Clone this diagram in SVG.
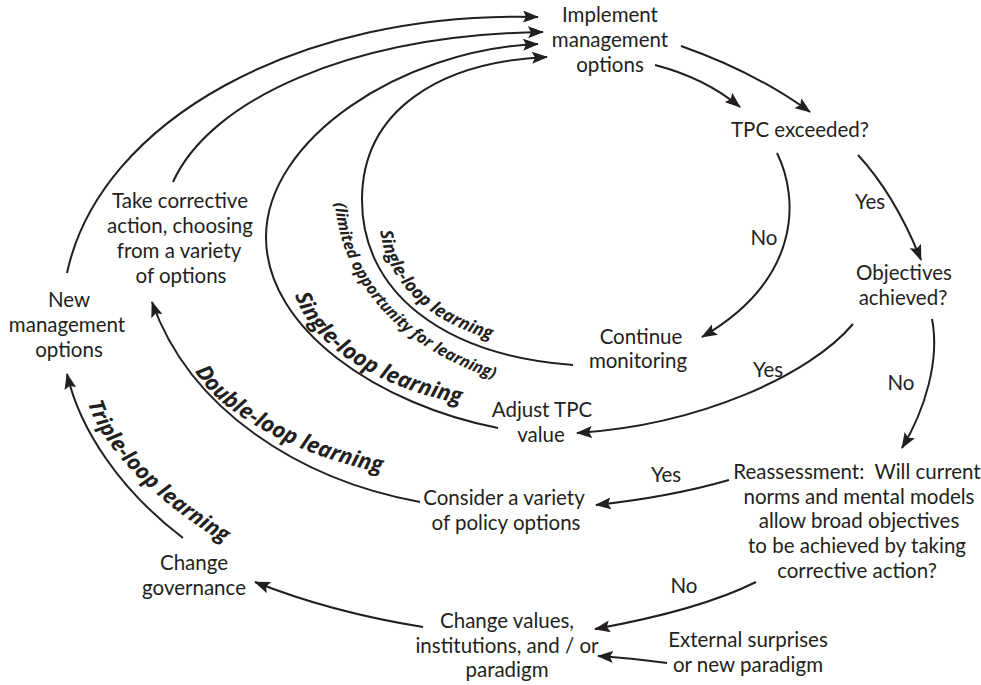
<svg xmlns="http://www.w3.org/2000/svg" xmlns:xlink="http://www.w3.org/1999/xlink" width="981" height="685" viewBox="0 0 981 685">
<style>
.t{font-family:Lato,"Open Sans","DejaVu Sans",sans-serif;font-size:20.5px;fill:#231f20;text-anchor:middle}
.c{fill:none;stroke:#231f20;stroke-width:2;marker-end:url(#ah)}
.lb{font-family:"Open Sans","Noto Sans","DejaVu Sans",sans-serif;font-weight:bold;font-style:italic;fill:#231f20}
</style>
<defs>
<marker id="ah" markerUnits="userSpaceOnUse" markerWidth="16" markerHeight="12" viewBox="0 0 16 12" refX="15" refY="6" orient="auto">
<path d="M0,0 L16,6 L0,12 L3,6 z" fill="#231f20"/>
</marker>
<path id="tpS1" d="M380,231 C388,285 430,325 504,343"/>
<path id="tpLim" d="M335,203 C342,290 410,355 505,382"/>
<path id="tpS2" d="M295,295 C310,345 380,390 468,405"/>
<path id="tpD" d="M195,371 C215,410 300,460 392,474"/>
<path id="tpT" d="M88,403 C100,445 155,505 240,552"/>
</defs>
<rect width="981" height="685" fill="#fff"/>
<g id="connectors">
<path class="c" d="M67,273 C100,120 300,10 538,17"/>
<path class="c" d="M173,182 C210,100 350,35 543,32"/>
<path class="c" d="M498,428 C380,405 266,330 266,237 C266,140 400,50 538,44"/>
<path class="c" d="M573,365 C440,355 362,290 362,200 C362,110 440,62 547,57"/>
<path class="c" d="M655,65 Q705,78 740,107"/>
<path class="c" d="M681,46 Q755,72 810,112"/>
<path class="c" d="M777,153 C800,200 800,280 702,337"/>
<path class="c" d="M858,155 Q895,195 921,260"/>
<path class="c" d="M853,324 C810,375 700,425 577,433"/>
<path class="c" d="M932,319 C940,360 925,410 902,448"/>
<path class="c" d="M729,480 Q670,497 596,505"/>
<path class="c" d="M756,582 Q700,610 595,629"/>
<path class="c" d="M667,663 Q630,658 598,656"/>
<path class="c" d="M423,627 Q330,612 255,582"/>
<path class="c" d="M183,538 C120,490 80,430 67,374"/>
<path class="c" d="M420,502 C300,480 190,410 152,302"/>
<g id="edge-labels">
<text class="t" x="764" y="245">No</text>
<text class="t" x="870" y="209">Yes</text>
<text class="t" x="901" y="390">No</text>
<text class="t" x="768" y="377">Yes</text>
<text class="t" x="666" y="482">Yes</text>
<text class="t" x="684" y="593">No</text>
<text class="lb" font-size="17.5"><textPath xlink:href="#tpS1" href="#tpS1">Single-loop learning</textPath></text>
<text class="lb" font-size="16"><textPath xlink:href="#tpLim" href="#tpLim">(limited opportunity for learning)</textPath></text>
<text class="lb" font-size="22"><textPath xlink:href="#tpS2" href="#tpS2">Single-loop learning</textPath></text>
<text class="lb" font-size="22"><textPath xlink:href="#tpD" href="#tpD">Double-loop learning</textPath></text>
<text class="lb" font-size="21.5"><textPath xlink:href="#tpT" href="#tpT">Triple-loop learning</textPath></text>
</g>
</g>
<g id="implement"><text class="t" x="610" y="22">Implement</text><text class="t" x="610" y="47">management</text><text class="t" x="610" y="72">options</text></g>
<g id="tpc-exceeded"><text class="t" x="800" y="137">TPC exceeded?</text></g>
<g id="objectives"><text class="t" x="904" y="280">Objectives</text><text class="t" x="903" y="305">achieved?</text></g>
<g id="continue-monitoring"><text class="t" x="641" y="344">Continue</text><text class="t" x="638" y="368">monitoring</text></g>
<g id="adjust-tpc"><text class="t" x="542" y="417">Adjust TPC</text><text class="t" x="541" y="442">value</text></g>
<g id="consider"><text class="t" x="504" y="505">Consider a variety</text><text class="t" x="506" y="530">of policy options</text></g>
<g id="reassessment"><text class="t" x="857" y="479" xml:space="preserve">Reassessment:  Will current</text><text class="t" x="859" y="503.5">norms and mental models</text><text class="t" x="859" y="528">allow broad objectives</text><text class="t" x="857" y="552.5">to be achieved by taking</text><text class="t" x="857" y="578">corrective action?</text></g>
<g id="external"><text class="t" x="748" y="647">External surprises</text><text class="t" x="748" y="672">or new paradigm</text></g>
<g id="change-values"><text class="t" x="507" y="628">Change values,</text><text class="t" x="507" y="653">institutions, and / or</text><text class="t" x="507" y="677">paradigm</text></g>
<g id="change-governance"><text class="t" x="194" y="570">Change</text><text class="t" x="194" y="595">governance</text></g>
<g id="new-options"><text class="t" x="69" y="307">New</text><text class="t" x="67" y="332">management</text><text class="t" x="69" y="357">options</text></g>
<g id="take-corrective"><text class="t" x="180" y="208">Take corrective</text><text class="t" x="180" y="233">action, choosing</text><text class="t" x="179" y="258">from a variety</text><text class="t" x="181" y="283">of options</text></g>
</svg>
